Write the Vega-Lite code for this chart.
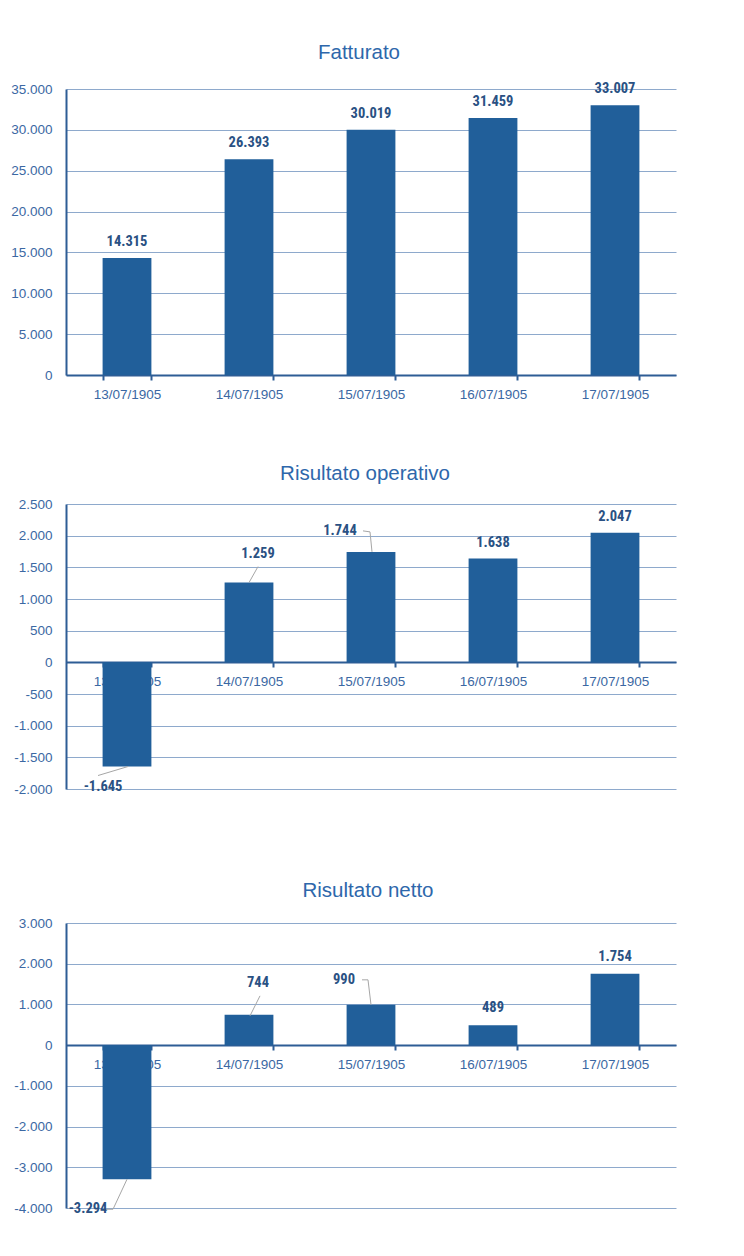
{
  "$schema": "https://vega.github.io/schema/vega-lite/v6.json",
  "background": "white",
  "padding": {"left": 10, "top": 42, "right": 10, "bottom": 10},
  "spacing": 84,
  "datasets": {
    "fatturato": [
      {"date": "13/07/1905", "value": 14315},
      {"date": "14/07/1905", "value": 26393},
      {"date": "15/07/1905", "value": 30019},
      {"date": "16/07/1905", "value": 31459},
      {"date": "17/07/1905", "value": 33007}
    ],
    "operativo": [
      {"date": "13/07/1905", "value": -1645},
      {"date": "14/07/1905", "value": 1259},
      {"date": "15/07/1905", "value": 1744},
      {"date": "16/07/1905", "value": 1638},
      {"date": "17/07/1905", "value": 2047}
    ],
    "netto": [
      {"date": "13/07/1905", "value": -3294},
      {"date": "14/07/1905", "value": 744},
      {"date": "15/07/1905", "value": 990},
      {"date": "16/07/1905", "value": 489},
      {"date": "17/07/1905", "value": 1754}
    ]
  },
  "vconcat": [
    {
      "spacing": 62,
      "vconcat": [
        {
          "width": 610,
          "height": 286,
          "title": {"text": "Fatturato", "dx": -12},
          "data": {"name": "fatturato"},
          "encoding": {
            "x": {"field": "date", "type": "nominal", "sort": null, "scale": {"paddingInner": 0.6, "paddingOuter": 0.3}, "axis": {"title": null}},
            "y": {"field": "value", "type": "quantitative", "scale": {"domain": [0, 35000], "nice": false}, "axis": {"title": null, "values": [0, 5000, 10000, 15000, 20000, 25000, 30000, 35000], "format": ",d"}}
          },
          "layer": [
            {"mark": {"type": "bar", "color": "#215F9A"}},
            {"mark": {"type": "text", "baseline": "middle", "dy": -16, "font": "Liberation Sans Narrow, Roboto Condensed, Liberation Sans", "fontWeight": "bold", "fontSize": 14.5, "color": "#2A5183"}, "encoding": {"text": {"field": "value", "format": ",d"}}}
          ]
        },
        {
          "width": 610,
          "height": 285,
          "title": {"text": "Risultato operativo", "offset": 13, "dx": -6},
          "data": {"name": "operativo"},
          "encoding": {
            "x": {"field": "date", "type": "nominal", "sort": null, "scale": {"paddingInner": 0.6, "paddingOuter": 0.3}, "axis": {"title": null, "offset": -127}},
            "y": {"field": "value", "type": "quantitative", "scale": {"domain": [-2000, 2500], "nice": false}, "axis": {"title": null, "values": [-2000, -1500, -1000, -500, 0, 500, 1000, 1500, 2000, 2500], "format": ",d"}}
          },
          "layer": [
            {"mark": {"type": "bar", "color": "#215F9A"}},
            {"transform": [{"filter": "datum.date === '16/07/1905' || datum.date === '17/07/1905'"}], "mark": {"type": "text", "baseline": "middle", "dy": -16, "font": "Liberation Sans Narrow, Roboto Condensed, Liberation Sans", "fontWeight": "bold", "fontSize": 14.5, "color": "#2A5183"}, "encoding": {"text": {"field": "value", "format": ",d"}}},
            {"transform": [{"filter": "datum.date === '14/07/1905'"}], "mark": {"type": "text", "baseline": "middle", "dx": 9, "dy": -29, "font": "Liberation Sans Narrow, Roboto Condensed, Liberation Sans", "fontWeight": "bold", "fontSize": 14.5, "color": "#2A5183"}, "encoding": {"text": {"field": "value", "format": ",d"}}},
            {"transform": [{"filter": "datum.date === '15/07/1905'"}], "mark": {"type": "text", "baseline": "middle", "dx": -31, "dy": -21, "font": "Liberation Sans Narrow, Roboto Condensed, Liberation Sans", "fontWeight": "bold", "fontSize": 14.5, "color": "#2A5183"}, "encoding": {"text": {"field": "value", "format": ",d"}}},
            {"transform": [{"filter": "datum.date === '13/07/1905'"}], "mark": {"type": "text", "baseline": "middle", "dx": -24, "dy": 20, "font": "Liberation Sans Narrow, Roboto Condensed, Liberation Sans", "fontWeight": "bold", "fontSize": 14.5, "color": "#2A5183"}, "encoding": {"text": {"field": "value", "format": ",d"}}},
            {"transform": [{"filter": "datum.date === '14/07/1905'"}], "mark": {"type": "rule", "color": "#A6A6A6", "strokeWidth": 1, "xOffset": 0, "yOffset": 0, "x2Offset": 9, "y2Offset": -16}, "encoding": {"x": {"field": "date", "type": "nominal", "sort": null, "bandPosition": 0.5}, "x2": {"field": "date", "bandPosition": 0.5}, "y2": {"field": "value"}}},
            {"transform": [{"filter": "datum.date === '15/07/1905'"}], "mark": {"type": "rule", "color": "#A6A6A6", "strokeWidth": 1, "xOffset": -8, "yOffset": -21, "x2Offset": -1, "y2Offset": -20}, "encoding": {"x": {"field": "date", "type": "nominal", "sort": null, "bandPosition": 0.5}, "x2": {"field": "date", "bandPosition": 0.5}, "y2": {"field": "value"}}},
            {"transform": [{"filter": "datum.date === '15/07/1905'"}], "mark": {"type": "rule", "color": "#A6A6A6", "strokeWidth": 1, "xOffset": -1, "yOffset": -20, "x2Offset": 1, "y2Offset": 0}, "encoding": {"x": {"field": "date", "type": "nominal", "sort": null, "bandPosition": 0.5}, "x2": {"field": "date", "bandPosition": 0.5}, "y2": {"field": "value"}}},
            {"transform": [{"filter": "datum.date === '13/07/1905'"}], "mark": {"type": "rule", "color": "#A6A6A6", "strokeWidth": 1, "xOffset": -29, "yOffset": 9, "x2Offset": 1, "y2Offset": 0}, "encoding": {"x": {"field": "date", "type": "nominal", "sort": null, "bandPosition": 0.5}, "x2": {"field": "date", "bandPosition": 0.5}, "y2": {"field": "value"}}}
          ]
        }
      ]
    },
    {
      "width": 610,
      "height": 285,
      "title": {"text": "Risultato netto", "offset": 15, "dx": -3},
      "data": {"name": "netto"},
      "encoding": {
        "x": {"field": "date", "type": "nominal", "sort": null, "scale": {"paddingInner": 0.6, "paddingOuter": 0.3}, "axis": {"title": null, "offset": -163}},
        "y": {"field": "value", "type": "quantitative", "scale": {"domain": [-4000, 3000], "nice": false}, "axis": {"title": null, "values": [-4000, -3000, -2000, -1000, 0, 1000, 2000, 3000], "format": ",d"}}
      },
      "layer": [
        {"mark": {"type": "bar", "color": "#215F9A"}},
        {"transform": [{"filter": "datum.date === '16/07/1905' || datum.date === '17/07/1905'"}], "mark": {"type": "text", "baseline": "middle", "dy": -17, "font": "Liberation Sans Narrow, Roboto Condensed, Liberation Sans", "fontWeight": "bold", "fontSize": 14.5, "color": "#2A5183"}, "encoding": {"text": {"field": "value", "format": ",d"}}},
        {"transform": [{"filter": "datum.date === '14/07/1905'"}], "mark": {"type": "text", "baseline": "middle", "dx": 9, "dy": -32, "font": "Liberation Sans Narrow, Roboto Condensed, Liberation Sans", "fontWeight": "bold", "fontSize": 14.5, "color": "#2A5183"}, "encoding": {"text": {"field": "value", "format": ",d"}}},
        {"transform": [{"filter": "datum.date === '15/07/1905'"}], "mark": {"type": "text", "baseline": "middle", "dx": -27, "dy": -25, "font": "Liberation Sans Narrow, Roboto Condensed, Liberation Sans", "fontWeight": "bold", "fontSize": 14.5, "color": "#2A5183"}, "encoding": {"text": {"field": "value", "format": ",d"}}},
        {"transform": [{"filter": "datum.date === '13/07/1905'"}], "mark": {"type": "text", "baseline": "middle", "dx": -39, "dy": 30, "font": "Liberation Sans Narrow, Roboto Condensed, Liberation Sans", "fontWeight": "bold", "fontSize": 14.5, "color": "#2A5183"}, "encoding": {"text": {"field": "value", "format": ",d"}}},
        {"transform": [{"filter": "datum.date === '14/07/1905'"}], "mark": {"type": "rule", "color": "#A6A6A6", "strokeWidth": 1, "xOffset": 1, "yOffset": 1, "x2Offset": 11, "y2Offset": -19}, "encoding": {"x": {"field": "date", "type": "nominal", "sort": null, "bandPosition": 0.5}, "x2": {"field": "date", "bandPosition": 0.5}, "y2": {"field": "value"}}},
        {"transform": [{"filter": "datum.date === '15/07/1905'"}], "mark": {"type": "rule", "color": "#A6A6A6", "strokeWidth": 1, "xOffset": -9, "yOffset": -25, "x2Offset": -3, "y2Offset": -25}, "encoding": {"x": {"field": "date", "type": "nominal", "sort": null, "bandPosition": 0.5}, "x2": {"field": "date", "bandPosition": 0.5}, "y2": {"field": "value"}}},
        {"transform": [{"filter": "datum.date === '15/07/1905'"}], "mark": {"type": "rule", "color": "#A6A6A6", "strokeWidth": 1, "xOffset": -3, "yOffset": -25, "x2Offset": 0, "y2Offset": 0}, "encoding": {"x": {"field": "date", "type": "nominal", "sort": null, "bandPosition": 0.5}, "x2": {"field": "date", "bandPosition": 0.5}, "y2": {"field": "value"}}},
        {"transform": [{"filter": "datum.date === '13/07/1905'"}], "mark": {"type": "rule", "color": "#A6A6A6", "strokeWidth": 1, "xOffset": -21, "yOffset": 30, "x2Offset": -14, "y2Offset": 30}, "encoding": {"x": {"field": "date", "type": "nominal", "sort": null, "bandPosition": 0.5}, "x2": {"field": "date", "bandPosition": 0.5}, "y2": {"field": "value"}}},
        {"transform": [{"filter": "datum.date === '13/07/1905'"}], "mark": {"type": "rule", "color": "#A6A6A6", "strokeWidth": 1, "xOffset": -14, "yOffset": 30, "x2Offset": 0, "y2Offset": 0}, "encoding": {"x": {"field": "date", "type": "nominal", "sort": null, "bandPosition": 0.5}, "x2": {"field": "date", "bandPosition": 0.5}, "y2": {"field": "value"}}}
      ]
    }
  ],
  "config": {
    "locale": {"number": {"decimal": ",", "thousands": ".", "grouping": [3], "currency": ["", " €"], "minus": "-"}},
    "view": {"stroke": null},
    "title": {"font": "Liberation Sans", "fontSize": 20.5, "fontWeight": "normal", "color": "#2E67AB", "anchor": "middle", "frame": "group", "offset": 18},
    "axis": {"labelFont": "Liberation Sans", "labelFontSize": 13.5, "labelColor": "#3B68A3", "zindex": 0},
    "axisX": {"domainColor": "#2E5D95", "domainWidth": 2, "tickColor": "#2E5D95", "tickWidth": 2, "tickSize": 5, "tickBand": "extent", "labelPadding": 7, "labelAngle": 0, "grid": false},
    "axisY": {"domainColor": "#2E5D95", "domainWidth": 2, "ticks": false, "gridColor": "#8EA9CC", "gridWidth": 1, "labelPadding": 14, "minExtent": 50, "maxExtent": 50}
  }
}
